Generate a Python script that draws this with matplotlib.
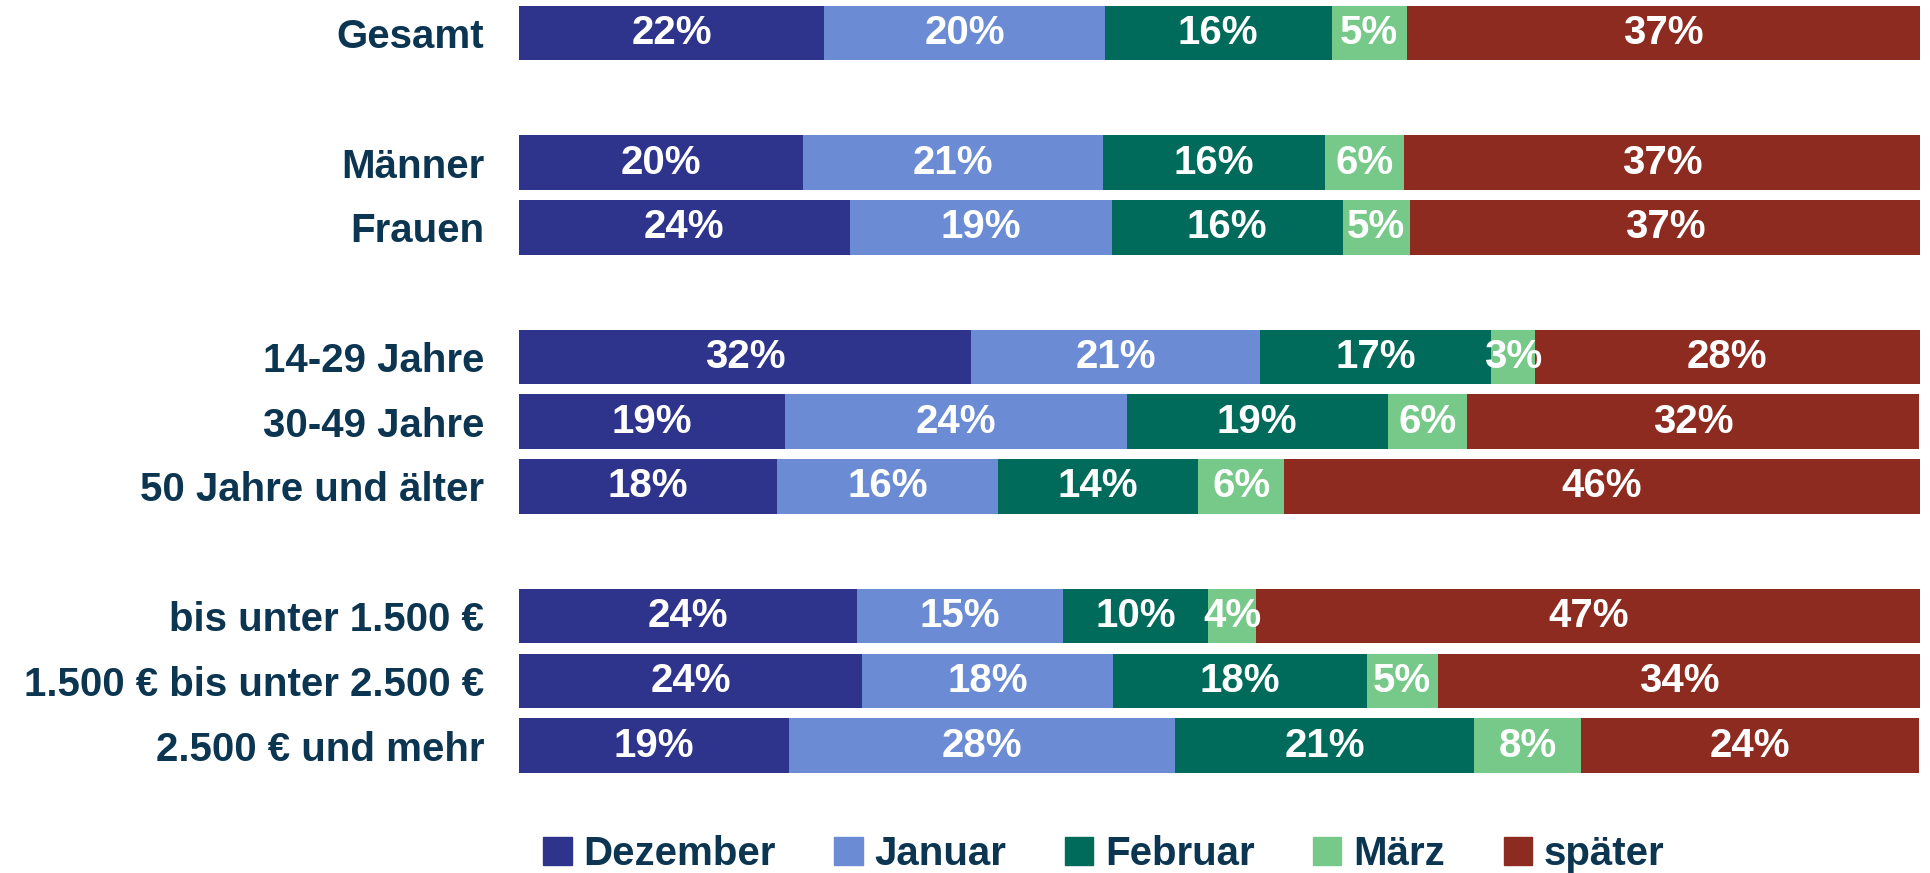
import numpy as np
import matplotlib.pyplot as plt
from matplotlib.patches import Patch

# -------- data --------
groups = ["Gesamt", "Männer", "Frauen", "14-29 Jahre", "30-49 Jahre",
          "50 Jahre und älter", "bis unter 1.500 €", "1.500 € bis unter 2.500 €",
          "2.500 € und mehr"]
row_pos = [0, 2, 3, 5, 6, 7, 9, 10, 11]   # blank rows between the blocks

series = ["Dezember", "Januar", "Februar", "März", "später"]
dezember = [21.8, 20.3, 23.6, 32.3, 19.0, 18.4, 24.1, 24.5, 19.3]
januar   = [20.0, 21.4, 18.7, 20.6, 24.4, 15.8, 14.7, 17.9, 27.5]
februar  = [16.2, 15.8, 16.5, 16.5, 18.6, 14.3, 10.4, 18.1, 21.4]
maerz    = [5.4, 5.7, 4.8, 3.1, 5.7, 6.1, 3.4, 5.1, 7.6]
spaeter  = [36.6, 36.8, 36.4, 27.5, 32.2, 45.4, 47.5, 34.4, 24.1]

# printed labels
lab_dez = [22, 20, 24, 32, 19, 18, 24, 24, 19]
lab_jan = [20, 21, 19, 21, 24, 16, 15, 18, 28]
lab_feb = [16, 16, 16, 17, 19, 14, 10, 18, 21]
lab_mae = [5, 6, 5, 3, 6, 6, 4, 5, 8]
lab_spa = [37, 37, 37, 28, 32, 46, 47, 34, 24]

colors = ["#2E348C", "#6B8CD4", "#006B5A", "#77C98A", "#8E2B20"]
text_col = "#0B3550"

plt.rcParams['font.family'] = ["Liberation Sans", "DejaVu Sans"]

fig = plt.figure(figsize=(19.3, 8.73), dpi=100)
ax = fig.add_axes([0.2689, 0.1088, 0.9948 - 0.2689, 0.8905])

values = [dezember, januar, februar, maerz, spaeter]
labels = [lab_dez, lab_jan, lab_feb, lab_mae, lab_spa]

left = np.zeros(len(groups))
for vals, labs, col, name in zip(values, labels, colors, series):
    vals = np.array(vals)
    ax.barh(row_pos, vals, left=left, height=0.84, color=col, label=name)
    for y, l, v, t in zip(row_pos, left, vals, labs):
        ax.text(l + v / 2, y, f"{t}%", ha="center", va="center",
                color="white", fontsize=29, fontweight="bold")
    left += vals

ax.set_xlim(0, 100)
ax.set_ylim(11.5, -0.5)
ax.set_yticks(row_pos)
ax.set_yticklabels(groups, fontsize=29, fontweight="bold", color=text_col)
ax.tick_params(axis="y", length=0, pad=25)
ax.set_xticks([])
for s in ax.spines.values():
    s.set_visible(False)

handles = [Patch(color=c, label=n) for c, n in zip(colors, series)]
leg = fig.legend(handles=handles, loc="center", bbox_to_anchor=(0.572, 0.022),
                 ncol=5, frameon=False, fontsize=29, handlelength=0.7,
                 handleheight=0.7, handletextpad=0.3, columnspacing=1.45)
for t in leg.get_texts():
    t.set_color(text_col)
    t.set_fontweight("bold")

fig.savefig("out.png", dpi=100)
